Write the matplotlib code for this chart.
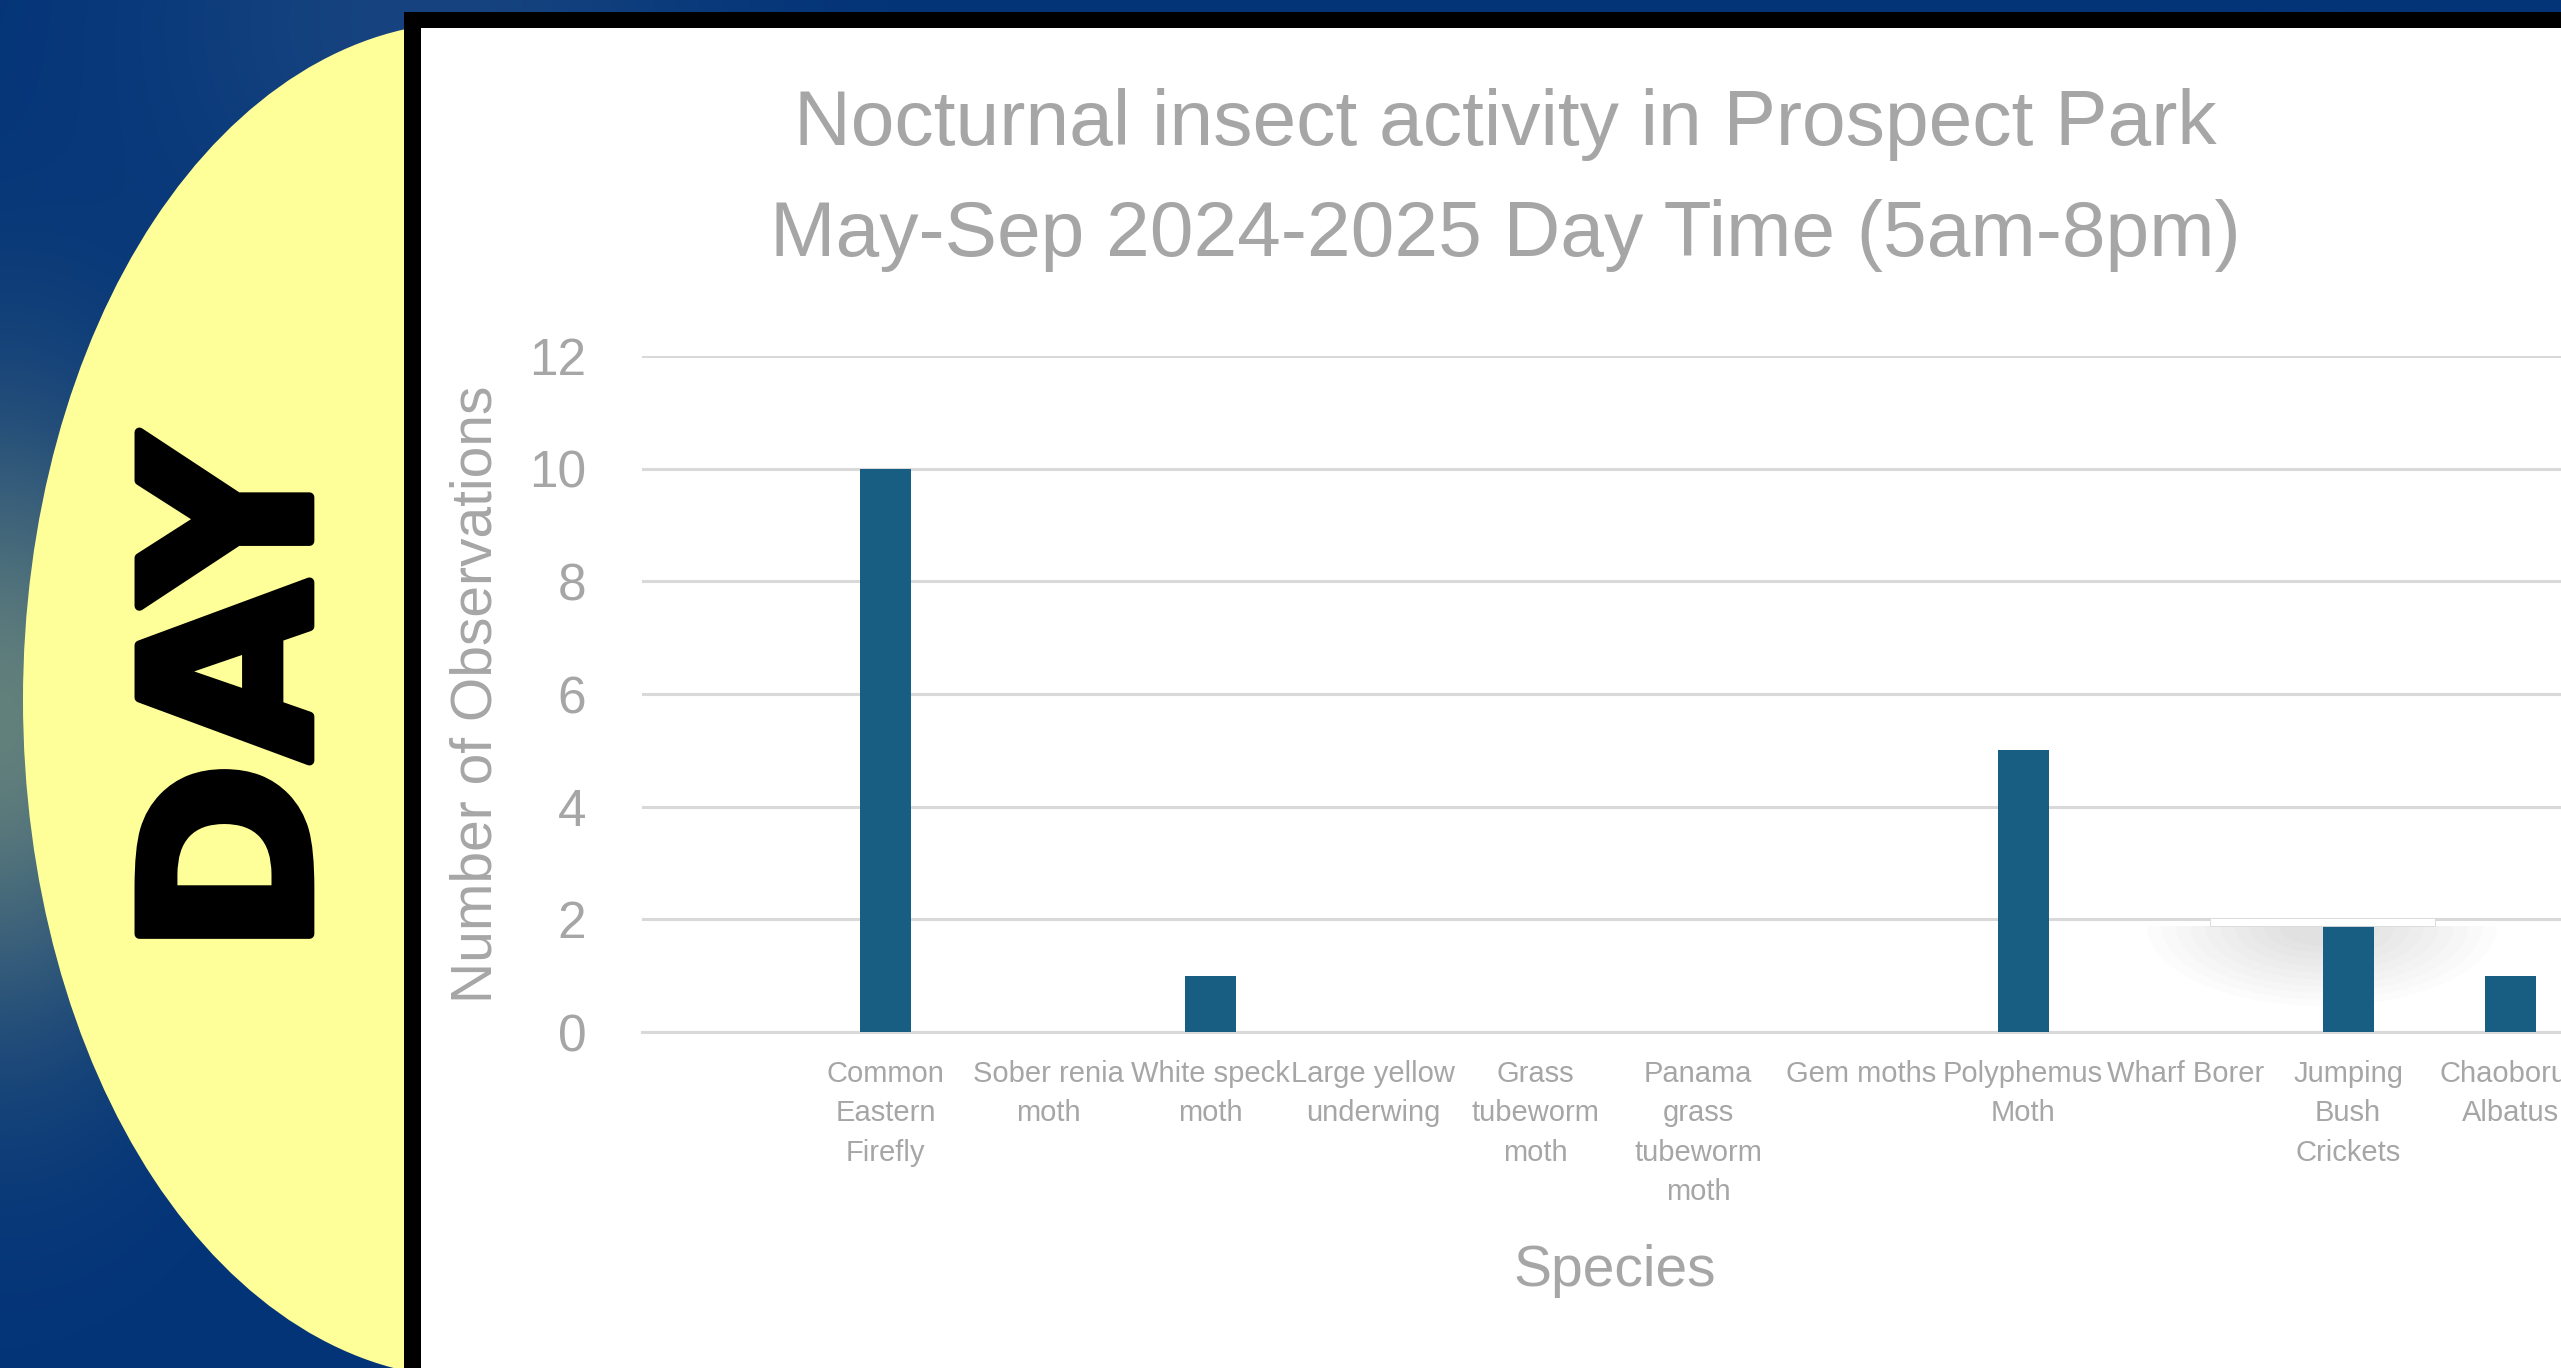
import numpy as np
import matplotlib
matplotlib.use("Agg")
import matplotlib.pyplot as plt
from matplotlib.patches import Ellipse, Rectangle
import matplotlib.patheffects as pe

# ---------------- data ----------------
species = ["Common Eastern Firefly", "Sober renia moth", "White speck moth",
           "Large yellow underwing", "Grass tubeworm moth",
           "Panama grass tubeworm moth", "Gem moths", "Polyphemus Moth",
           "Wharf Borer", "Jumping Bush Crickets", "Chaoborus Albatus"]
tick_labels = ["Common\nEastern\nFirefly", "Sober renia\nmoth", "White speck\nmoth",
               "Large yellow\nunderwing", "Grass\ntubeworm\nmoth",
               "Panama\ngrass\ntubeworm\nmoth", "Gem moths", "Polyphemus\nMoth",
               "Wharf Borer", "Jumping\nBush\nCrickets", "Chaoborus\nAlbatus"]
observations = [10, 0, 1, 0, 0, 0, 0, 5, 0, 2, 1]
y_ticks = [0, 2, 4, 6, 8, 10, 12]
title_line1 = "Nocturnal insect activity in Prospect Park"
title_line2 = "May-Sep 2024-2025 Day Time (5am-8pm)"
x_title = "Species"
y_title = "Number of Observations"
side_word = "DAY"

plt.rcParams['font.family'] = ['Liberation Sans', 'DejaVu Sans']

W, H = 2561, 1368
GRAY = '#a6a6a6'
GRID = '#d9d9d9'
BAR = '#185e82'

fig = plt.figure(figsize=(W / 100, H / 100), dpi=100)

# ---------------- decorative background ----------------
bg = fig.add_axes([0, 0, 1, 1])
bg.set_xlim(0, W)
bg.set_ylim(H, 0)
bg.axis('off')

yy, xx = np.mgrid[0:H:4, 0:W:4].astype(float)
base = np.array([3, 52, 120]) / 255.0
glow = np.array([98, 128, 124]) / 255.0
top = np.array([28, 72, 130]) / 255.0
wg = np.exp(-((xx / 170.0) ** 2 + ((yy - 720) / 300.0) ** 2))
wt = 0.8 * np.exp(-(((xx - 420) / 280.0) ** 2 + ((yy - 20) / 260.0) ** 2))
img = base[None, None, :] * (1 - wg[..., None]) + glow[None, None, :] * wg[..., None]
img = img * (1 - wt[..., None]) + top[None, None, :] * wt[..., None]
bg.imshow(img, extent=[0, W, H, 0], aspect='auto', interpolation='bilinear', zorder=0)

bg.add_patch(Ellipse((470, 700), 2 * 447, 2 * 678, fc='#ffff99', ec='none', zorder=1))
bg.add_patch(Rectangle((404, 12), W, H, fc='black', ec='none', zorder=2))
bg.add_patch(Rectangle((421, 28), W, H, fc='white', ec='none', zorder=3))

bg.text(245, 695, side_word, rotation=90, ha='center', va='center',
        fontsize=168, fontweight='bold', color='black', zorder=4,
        family=['DejaVu Sans'],
        path_effects=[pe.withStroke(linewidth=7, foreground='black')])

# ---------------- chart ----------------
ax = fig.add_axes([642 / W, (H - 1032) / H, (W - 642) / W, (1032 - 356) / H])
ax.patch.set_alpha(0)
x = np.arange(len(species))
ax.bar(x, observations, width=0.315, color=BAR, zorder=3)
ax.set_xlim(-1.5, 10.31)
ax.set_ylim(0, 12)
ax.set_yticks(y_ticks)
ax.set_yticklabels([str(v) for v in y_ticks])
ax.yaxis.grid(True, color=GRID, linewidth=2.2)
ax.set_axisbelow(True)
for s in ['left', 'right', 'top']:
    ax.spines[s].set_visible(False)
ax.spines['bottom'].set_color(GRID)
ax.spines['bottom'].set_linewidth(2.2)

ax.tick_params(axis='y', length=0, labelsize=37, labelcolor=GRAY, pad=40)
ax.set_xticks(x)
ax.set_xticklabels(tick_labels, fontsize=21, color=GRAY, linespacing=1.52)
ax.tick_params(axis='x', length=0, pad=20)

ax.set_ylabel(y_title, fontsize=41, color=GRAY, va='center')
ax.yaxis.set_label_coords(-0.0865, 0.5)
ax.set_xlabel(x_title, fontsize=41, color=GRAY, va='center')
ax.xaxis.set_label_coords((1615 - 642) / (W - 642), -(1271 - 1032) / (1032 - 356))

fig.text(1505 / W, 1 - 145 / H, title_line1, ha='center', va='baseline',
         fontsize=56.5, color=GRAY)
fig.text(1505 / W, 1 - 256 / H, title_line2, ha='center', va='baseline',
         fontsize=56.5, color=GRAY)

# ---------------- sticker artefact over the plot ----------------
px = bg.transData  # figure-pixel coordinates (top-left origin)
clip = Rectangle((2100, 926), 420, 120, transform=px)
for k in np.linspace(1.0, 0.25, 10):
    e = Ellipse((2322, 926), 2 * 175 * k, 2 * 80 * k, fc='#707070', ec='none',
                alpha=0.02, transform=px, zorder=2.5)
    ax.add_patch(e)
    e.set_clip_path(clip)
ax.add_patch(Rectangle((2210, 918), 225, 8, fc='white', ec='#d8d8d8', lw=0.6,
                       transform=px, zorder=5))

fig.savefig('out.png', dpi=100)
